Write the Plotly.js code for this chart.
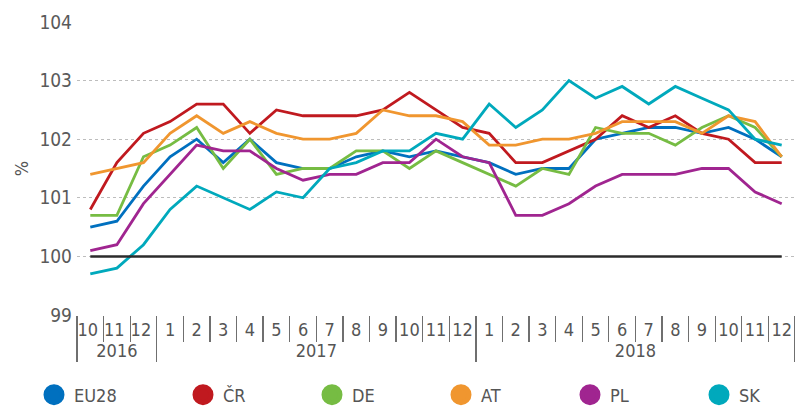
<!DOCTYPE html>
<html>
<head>
<meta charset="utf-8">
<script src="https://cdn.plot.ly/plotly-3.0.1.min.js"></script>
<style>
html,body{margin:0;padding:0;background:#fff;}
#chart{width:795px;height:407px;}
</style>
</head>
<body>
<div id="chart"></div>
<script>
// Category labels (2016 months carry a trailing space so that Plotly's
// multicategory sorting keeps months in calendar order; SVG strips it)
const years = ["2016","2016","2016",
  "2017","2017","2017","2017","2017","2017","2017","2017","2017","2017","2017","2017",
  "2018","2018","2018","2018","2018","2018","2018","2018","2018","2018","2018","2018"];
const months = ["10 ","11 ","12 ",
  "1","2","3","4","5","6","7","8","9","10","11","12",
  "1","2","3","4","5","6","7","8","9","10","11","12"];

// Series values (%)
const EU28 = [100.5,100.6,101.2, 101.7,102.0,101.6,102.0,101.6,101.5,101.5,101.7,101.8,101.7,101.8,101.7, 101.6,101.4,101.5,101.5,102.0,102.1,102.2,102.2,102.1,102.2,102.0,101.7];
const CR   = [100.8,101.6,102.1, 102.3,102.6,102.6,102.1,102.5,102.4,102.4,102.4,102.5,102.8,102.5,102.2, 102.1,101.6,101.6,101.8,102.0,102.4,102.2,102.4,102.1,102.0,101.6,101.6];
const DE   = [100.7,100.7,101.7, 101.9,102.2,101.5,102.0,101.4,101.5,101.5,101.8,101.8,101.5,101.8,101.6, 101.4,101.2,101.5,101.4,102.2,102.1,102.1,101.9,102.2,102.4,102.2,101.7];
const AT   = [101.4,101.5,101.6, 102.1,102.4,102.1,102.3,102.1,102.0,102.0,102.1,102.5,102.4,102.4,102.3, 101.9,101.9,102.0,102.0,102.1,102.3,102.3,102.3,102.1,102.4,102.3,101.7];
const PL   = [100.1,100.2,100.9, 101.4,101.9,101.8,101.8,101.5,101.3,101.4,101.4,101.6,101.6,102.0,101.7, 101.6,100.7,100.7,100.9,101.2,101.4,101.4,101.4,101.5,101.5,101.1,100.9];
const SK   = [99.7,99.8,100.2, 100.8,101.2,101.0,100.8,101.1,101.0,101.5,101.6,101.8,101.8,102.1,102.0, 102.6,102.2,102.5,103.0,102.7,102.9,102.6,102.9,102.7,102.5,102.0,101.9];
const baseline = 100;

const seriesNames = ["EU28","ČR","DE","AT","PL","SK"];
const seriesData = [EU28, CR, DE, AT, PL, SK];
const seriesColors = ["#0070bf","#c0191f","#76bc43","#f0962f","#a02590","#00a9bc"];

const font = "'Liberation Sans Narrow','DejaVu Sans Condensed','Open Sans',sans-serif";
const x = [years, months];
const last = months.length - 1;

const traces = [];
seriesData.forEach((d, i) => {
  traces.push({
    type: "scatter", mode: "lines", name: seriesNames[i],
    x: x, y: d,
    line: {color: seriesColors[i], width: 2.8},
    showlegend: false
  });
});
// baseline 100 line
traces.push({
  type: "scatter", mode: "lines",
  x: [[years[0], years[last]], [months[0], months[last]]],
  y: [baseline, baseline],
  line: {color: "#2b2b2b", width: 2.5},
  showlegend: false, hoverinfo: "skip"
});
// legend entries (circle symbols)
seriesData.forEach((d, i) => {
  traces.push({
    type: "scatter", mode: "markers", name: seriesNames[i],
    x: [[null],[null]], y: [null],
    marker: {color: seriesColors[i], size: 16, line: {color: seriesColors[i], width: 5}},
    showlegend: true, hoverinfo: "skip",
    legend: i === 0 ? "legend" : "legend2"
  });
});

const legendCommon = {
  orientation: "h", xref: "container", yref: "container",
  xanchor: "left", y: 1 - 395/407, yanchor: "middle",
  font: {family: font, size: 18, color: "#555555"},
  entrywidth: 84, entrywidthmode: "pixels",
  itemclick: false, traceorder: "normal", bgcolor: "rgba(0,0,0,0)"
};

const layout = {
  width: 795, height: 407,
  margin: {l: 77, r: 0, t: 22, b: 92},
  paper_bgcolor: "#ffffff", plot_bgcolor: "#ffffff",
  font: {family: font, color: "#555555", size: 18},
  showlegend: true,
  legend: Object.assign({}, legendCommon, {x: 34/795}),
  legend2: Object.assign({}, legendCommon, {x: 183/795}),
  xaxis: {
    type: "multicategory",
    range: [-0.5, 26.5],
    showgrid: false, zeroline: false, showline: false,
    ticks: "outside", tickson: "boundaries", ticklen: 26, tickwidth: 1.3, tickcolor: "#6f6f6f",
    ticklabelstandoff: 2, tickangle: 0,
    tickfont: {family: font, size: 18, color: "#555555"},
    showdividers: true, dividercolor: "#6f6f6f", dividerwidth: 1.3
  },
  yaxis: {
    range: [99, 104],
    tickvals: [99,100,101,102,103,104],
    showgrid: true, gridcolor: "#bdbdbd", griddash: "dot", gridwidth: 1,
    zeroline: false, showline: false, ticks: "",
    tickfont: {family: font, size: 19, color: "#5a5a5a"},
    ticklabelstandoff: 4,
    title: {text: "%", font: {family: font, size: 18, color: "#555555"}, standoff: 6}
  }
};

Plotly.newPlot("chart", traces, layout, {displayModeBar: false, staticPlot: true});
</script>
</body>
</html>
